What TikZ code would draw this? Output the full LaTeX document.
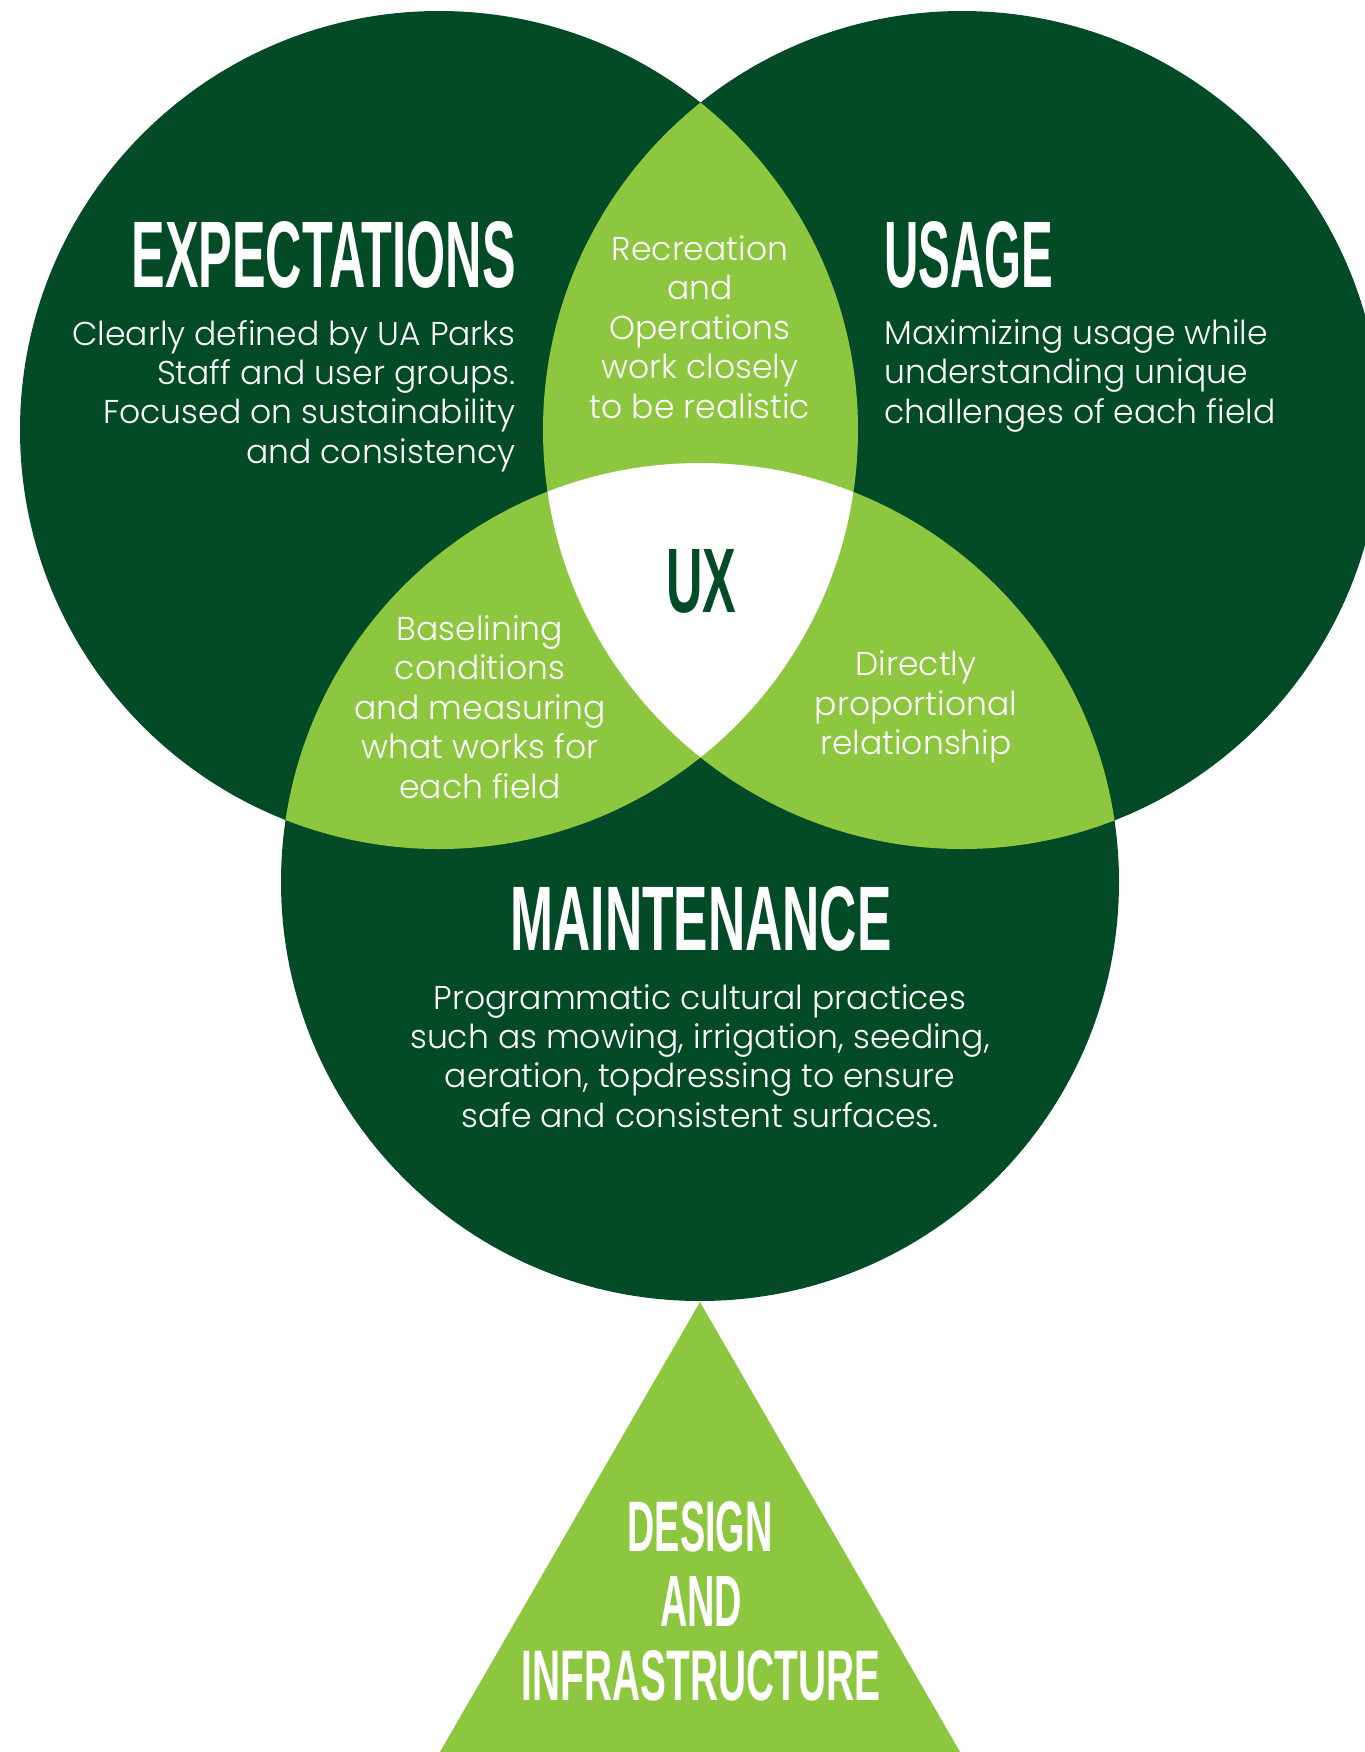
\documentclass[tikz,border=0pt]{standalone}
\usepackage{fontspec}
\setmainfont{Poppins}
\IfFontExistsTF{Poppins Light}{\newfontfamily\bodyfont{Poppins Light}}{\newfontfamily\bodyfont{Poppins}}
\newfontfamily\headfont{Liberation Sans}
\usepackage{graphicx}
\definecolor{dk}{HTML}{034B27}
\definecolor{lt}{HTML}{8DC63F}
\tikzset{
  body/.style={text=white, inner sep=0pt, font=\bodyfont\fontsize{16.5}{19.7}\selectfont},
  head/.style={text=white, inner sep=0pt, font=\headfont\bfseries},
  darkfill/.style={fill=dk},
  lightfill/.style={fill=lt}
}
\begin{document}
\begin{tikzpicture}[x=0.5pt,y=0.5pt]
\useasboundingbox (0,0) rectangle (1365,-1752);
\clip (0,0) rectangle (1365,-1752);
\coordinate (cA) at (439,-430);
\coordinate (cB) at (962,-430);
\coordinate (cC) at (700,-882);
\def\R{419}
% triangle
\fill[lightfill] (700,-1302) -- (989,-1802) -- (411,-1802) -- cycle;
% circles
\fill[darkfill] (cA) circle[radius=\R];
\fill[darkfill] (cB) circle[radius=\R];
\fill[darkfill] (cC) circle[radius=\R];
% pairwise overlaps
\begin{scope}
  \clip (cA) circle[radius=\R];
  \fill[lightfill] (cB) circle[radius=\R];
  \fill[lightfill] (cC) circle[radius=\R];
\end{scope}
\begin{scope}
  \clip (cB) circle[radius=\R];
  \fill[lightfill] (cC) circle[radius=\R];
\end{scope}
% triple overlap
\begin{scope}
  \clip (cA) circle[radius=\R];
  \clip (cB) circle[radius=\R];
  \fill[white] (cC) circle[radius=\R];
\end{scope}
% headings
\node[head, anchor=south east] (exph) at (516,-289) {\resizebox{192pt}{33pt}{EXPECTATIONS}};
\node[head, anchor=south west] (useh) at (884,-289) {\resizebox{84.5pt}{33pt}{USAGE}};
\node[head, text=dk] (uxh) at (701,-581) {\resizebox{35pt}{31.5pt}{UX}};
\node[head, anchor=south] (mainh) at (701,-952) {\resizebox{190.5pt}{32pt}{MAINTENANCE}};
\node[head, anchor=south] (desh) at (700,-1553) {\resizebox{72.5pt}{25pt}{DESIGN}};
\node[head, anchor=south] (andh) at (701,-1627) {\resizebox{41pt}{25pt}{AND}};
\node[head, anchor=south] (infh) at (701,-1702) {\resizebox{179pt}{25pt}{INFRASTRUCTURE}};
% body texts
\node[body, align=right, anchor=east] (expb) at (516,-396) {Clearly defined by UA Parks\\Staff and user groups.\\Focused on sustainability\\and consistency};
\node[body, align=left, anchor=west] (useb) at (884,-376) {Maximizing usage while\\understanding unique\\challenges of each field};
\node[body, align=center] (recb) at (700,-327) {Recreation\\and\\Operations\\work closely\\to be realistic};
\node[body, align=center] (basb) at (480,-707) {Baselining\\conditions\\and measuring\\what works for\\each field};
\node[body, align=center] (dirb) at (916,-707) {Directly\\proportional\\relationship};
\node[body, align=center] (mainb) at (700,-1056) {Programmatic cultural practices\\such as mowing, irrigation, seeding,\\aeration, topdressing to ensure\\safe and consistent surfaces.};
\end{tikzpicture}
\end{document}
